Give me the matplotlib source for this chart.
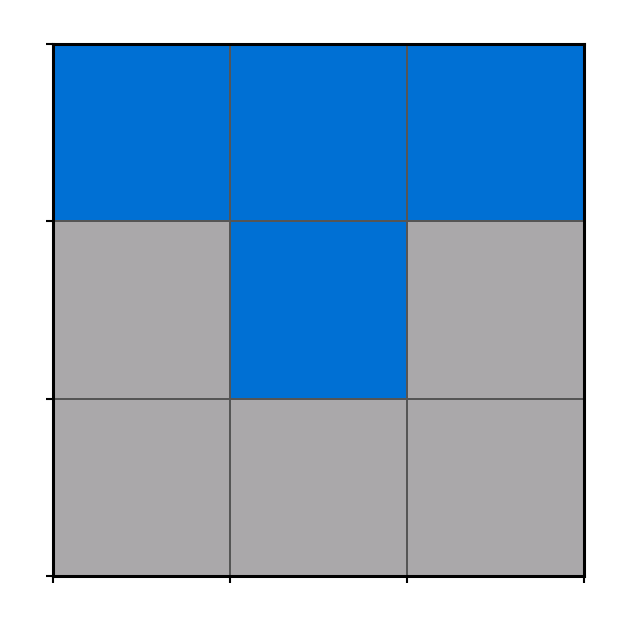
import matplotlib
matplotlib.use("Agg")
import matplotlib.pyplot as plt
from matplotlib.colors import ListedColormap
import numpy as np

# 1 = blue cell, 0 = gray cell; first row is the top row
grid = [
    [1, 1, 1],
    [0, 1, 0],
    [0, 0, 0],
]

fig = plt.figure(figsize=(6.29, 6.29), dpi=100)
ax = fig.add_axes([53/629, 1-576/629, (584-53)/629, (576-44)/629])
cmap = ListedColormap(["#aaa8aa", "#0070d4"])
data = np.array(grid)
ax.pcolormesh(np.arange(4), np.arange(4), data, cmap=cmap, vmin=0, vmax=1,
              edgecolors="#555555", linewidth=1.3)
ax.set_xlim(0, 3)
ax.set_ylim(3, 0)
ax.set_xticks(range(4))
ax.set_yticks(range(4))
ax.set_xticklabels([])
ax.set_yticklabels([])
ax.tick_params(length=5, width=1.5, color="black")
for s in ax.spines.values():
    s.set_linewidth(2.2)
    s.set_color("black")
fig.savefig("out.png", dpi=100)
